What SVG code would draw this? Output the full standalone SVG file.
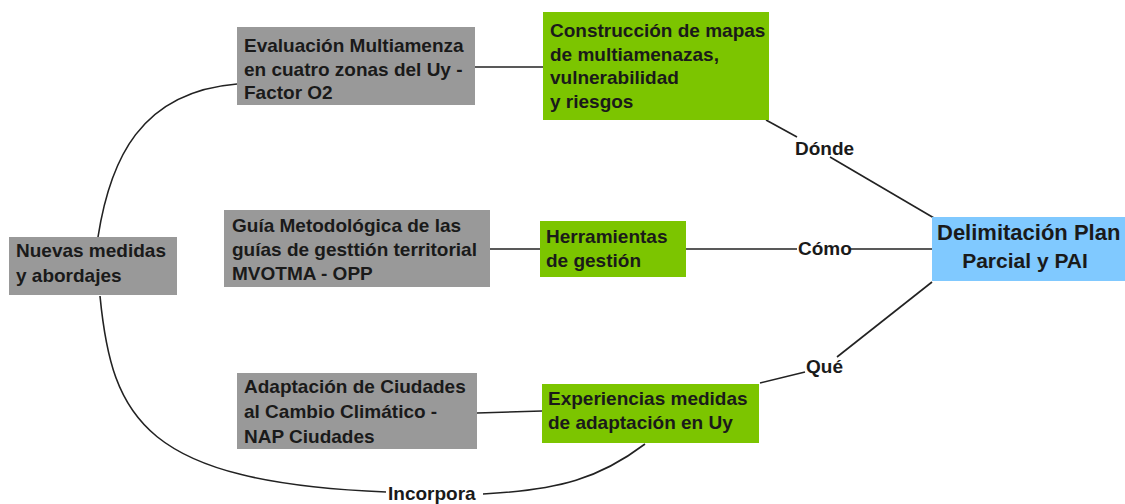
<svg xmlns="http://www.w3.org/2000/svg" width="1125" height="504" viewBox="0 0 1125 504">
<style>
.gray{fill:#999999}
.green{fill:#7cc500}
.blue{fill:#80c9ff}
text{font-family:"Liberation Sans",Arial,sans-serif;font-weight:bold;font-size:19px;fill:#1a1a1a}
.big{font-size:21px}
.edge{fill:none;stroke:#222222;stroke-width:1.6}
</style>
<rect width="1125" height="504" fill="#ffffff"/>
<g id="connectors">
<path class="edge" d="M 98 237 C 110 160, 140 92, 237 84"/>
<path class="edge" d="M 475 67 H 543"/>
<path class="edge" d="M 766 120 L 797 137"/>
<path class="edge" d="M 830 157 L 934 218"/>
<path class="edge" d="M 490 249 H 540"/>
<path class="edge" d="M 686 249 H 797"/>
<path class="edge" d="M 850 249 H 932"/>
<path class="edge" d="M 932 282 L 837 357"/>
<path class="edge" d="M 805 372 L 760 383"/>
<path class="edge" d="M 477 413 L 542 411"/>
<path class="edge" d="M 100 296 C 112 420, 145 482, 386 492"/>
<path class="edge" d="M 483 494 C 560 490, 600 478, 645 444"/>
</g>
<g id="labels">
<text x="795" y="155">Dónde</text>
<text x="798" y="255">Cómo</text>
<text x="806" y="373">Qué</text>
<text x="388" y="500">Incorpora</text>
</g>
<g id="nuevas">
<rect class="gray" x="9" y="237" width="168" height="58"/>
<text x="16" y="257">Nuevas medidas</text>
<text x="16" y="282">y abordajes</text>
</g>
<g id="evaluacion">
<rect class="gray" x="237" y="27" width="238" height="78"/>
<text x="244" y="52">Evaluación Multiamenza</text>
<text x="244" y="76">en cuatro zonas del Uy -</text>
<text x="244" y="99">Factor O2</text>
</g>
<g id="construccion">
<rect class="green" x="543" y="12" width="226" height="108"/>
<text x="550" y="37">Construcción de mapas</text>
<text x="550" y="61">de multiamenazas,</text>
<text x="550" y="84">vulnerabilidad</text>
<text x="550" y="108">y riesgos</text>
</g>
<g id="guia">
<rect class="gray" x="224" y="210" width="266" height="77"/>
<text x="232" y="232">Guía Metodológica de las</text>
<text x="232" y="256">guías de gesttión territorial</text>
<text x="232" y="280">MVOTMA - OPP</text>
</g>
<g id="herramientas">
<rect class="green" x="540" y="221" width="146" height="56"/>
<text x="546" y="243">Herramientas</text>
<text x="546" y="267">de gestión</text>
</g>
<g id="delimitacion">
<rect class="blue" x="932" y="217" width="193" height="64"/>
<text class="big" x="937" y="240" style="font-size:22px">Delimitación Plan</text>
<text class="big" x="1025" y="268" text-anchor="middle">Parcial y PAI</text>
</g>
<g id="adaptacion">
<rect class="gray" x="237" y="373" width="240" height="76"/>
<text x="244" y="393">Adaptación de Ciudades</text>
<text x="244" y="418">al Cambio Climático -</text>
<text x="244" y="443">NAP Ciudades</text>
</g>
<g id="experiencias">
<rect class="green" x="542" y="384" width="217" height="59"/>
<text x="548" y="405">Experiencias medidas</text>
<text x="548" y="429">de adaptación en Uy</text>
</g>
</svg>
